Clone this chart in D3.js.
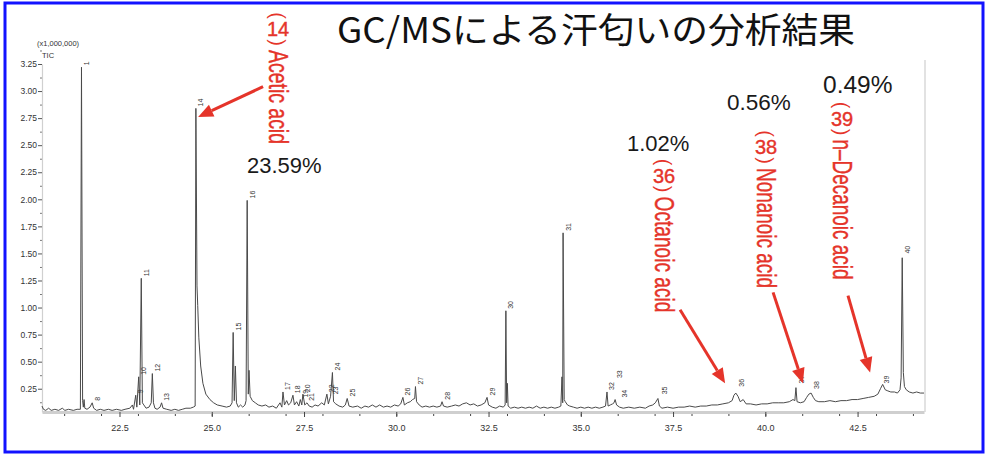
<!DOCTYPE html>
<html>
<head>
<meta charset="utf-8">
<script src="https://cdn.jsdelivr.net/npm/d3@7"></script>
<style>
  body { margin: 0; background: #fff; }
  svg { display: block; font-family: "Liberation Sans", Arial, sans-serif; }
</style>
</head>
<body>
<div id="chart-area"></div>
<script>
// TIC trace: [retention time (min), intensity (x1,000,000)]
var trace = [
    [20.40, 0.09], [20.44, 0.06], [20.50, 0.05], [20.58, 0.07], [20.65, 0.05], [20.75, 0.06],
    [20.85, 0.05], [20.95, 0.07], [21.02, 0.05], [21.12, 0.06], [21.25, 0.05], [21.35, 0.06],
    [21.44, 0.06], [21.47, 3.22], [21.50, 0.14], [21.52, 0.08], [21.54, 0.15], [21.56, 0.07],
    [21.62, 0.06], [21.70, 0.08], [21.76, 0.12], [21.80, 0.07], [21.88, 0.05], [21.98, 0.06],
    [22.08, 0.05], [22.20, 0.06], [22.30, 0.05], [22.42, 0.06], [22.55, 0.05], [22.65, 0.06],
    [22.78, 0.07], [22.85, 0.10], [22.88, 0.06], [22.94, 0.19], [22.97, 0.08], [23.02, 0.36],
    [23.05, 0.10], [23.09, 1.27], [23.12, 0.12], [23.16, 0.10], [23.22, 0.07], [23.30, 0.08],
    [23.36, 0.12], [23.39, 0.39], [23.42, 0.12], [23.46, 0.07], [23.52, 0.06], [23.60, 0.08],
    [23.64, 0.12], [23.68, 0.07], [23.78, 0.06], [23.90, 0.05], [24.00, 0.06], [24.10, 0.05],
    [24.20, 0.06], [24.30, 0.07], [24.42, 0.07], [24.50, 0.08], [24.55, 0.09], [24.57, 2.84],
    [24.60, 1.20], [24.62, 1.02], [24.65, 0.72], [24.70, 0.46], [24.76, 0.30], [24.84, 0.20],
    [24.95, 0.15], [25.05, 0.12], [25.15, 0.10], [25.28, 0.09], [25.40, 0.08], [25.50, 0.09],
    [25.55, 0.12], [25.58, 0.77], [25.61, 0.14], [25.64, 0.46], [25.67, 0.12], [25.72, 0.08],
    [25.78, 0.10], [25.84, 0.08], [25.90, 0.10], [25.93, 0.14], [25.96, 1.99], [25.99, 0.20],
    [26.01, 0.42], [26.04, 0.18], [26.10, 0.14], [26.18, 0.12], [26.26, 0.10], [26.36, 0.09],
    [26.46, 0.10], [26.55, 0.08], [26.65, 0.09], [26.75, 0.07], [26.85, 0.12], [26.90, 0.08],
    [26.93, 0.22], [26.97, 0.10], [27.03, 0.14], [27.08, 0.10], [27.14, 0.12], [27.20, 0.19],
    [27.24, 0.10], [27.30, 0.13], [27.36, 0.09], [27.40, 0.15], [27.44, 0.10], [27.47, 0.20],
    [27.52, 0.10], [27.58, 0.12], [27.64, 0.09], [27.72, 0.08], [27.80, 0.10], [27.88, 0.09],
    [27.98, 0.12], [28.05, 0.10], [28.12, 0.20], [28.16, 0.11], [28.22, 0.18], [28.27, 0.40],
    [28.30, 0.13], [28.36, 0.11], [28.45, 0.09], [28.55, 0.08], [28.62, 0.10], [28.67, 0.16],
    [28.72, 0.09], [28.82, 0.08], [28.95, 0.09], [29.05, 0.07], [29.15, 0.09], [29.25, 0.08],
    [29.35, 0.10], [29.45, 0.08], [29.55, 0.10], [29.65, 0.08], [29.75, 0.09], [29.85, 0.08],
    [29.95, 0.10], [30.05, 0.09], [30.12, 0.11], [30.18, 0.17], [30.22, 0.10], [30.30, 0.12],
    [30.38, 0.13], [30.44, 0.15], [30.50, 0.16], [30.52, 0.27], [30.55, 0.13], [30.62, 0.10],
    [30.70, 0.08], [30.80, 0.09], [30.90, 0.08], [31.00, 0.09], [31.10, 0.08], [31.20, 0.09],
    [31.24, 0.13], [31.28, 0.09], [31.38, 0.08], [31.50, 0.09], [31.60, 0.10], [31.70, 0.09],
    [31.80, 0.11], [31.90, 0.12], [32.00, 0.10], [32.10, 0.11], [32.20, 0.09], [32.30, 0.10],
    [32.40, 0.12], [32.46, 0.17], [32.50, 0.10], [32.60, 0.08], [32.70, 0.07], [32.80, 0.09],
    [32.90, 0.08], [32.95, 0.10], [32.97, 0.97], [32.99, 0.12], [33.01, 0.30], [33.03, 0.09],
    [33.10, 0.07], [33.20, 0.08], [33.30, 0.07], [33.40, 0.08], [33.50, 0.07], [33.60, 0.08],
    [33.70, 0.07], [33.80, 0.09], [33.90, 0.07], [34.00, 0.08], [34.10, 0.07], [34.20, 0.08],
    [34.30, 0.07], [34.40, 0.08], [34.46, 0.09], [34.49, 0.36], [34.51, 0.12], [34.52, 1.69],
    [34.55, 0.15], [34.58, 0.13], [34.64, 0.10], [34.70, 0.09], [34.80, 0.08], [34.90, 0.07],
    [35.00, 0.08], [35.10, 0.07], [35.20, 0.08], [35.30, 0.07], [35.40, 0.08], [35.50, 0.07],
    [35.60, 0.08], [35.67, 0.09], [35.71, 0.22], [35.74, 0.09], [35.80, 0.10], [35.86, 0.11],
    [35.90, 0.12], [35.93, 0.15], [35.97, 0.10], [36.05, 0.08], [36.15, 0.07], [36.30, 0.08],
    [36.45, 0.07], [36.60, 0.08], [36.75, 0.07], [36.85, 0.09], [36.95, 0.10], [37.02, 0.12],
    [37.09, 0.16], [37.13, 0.09], [37.20, 0.07], [37.35, 0.08], [37.50, 0.07], [37.65, 0.08],
    [37.80, 0.08], [37.95, 0.09], [38.10, 0.08], [38.25, 0.09], [38.40, 0.09], [38.55, 0.10],
    [38.70, 0.10], [38.85, 0.11], [39.00, 0.12], [39.10, 0.14], [39.15, 0.19], [39.20, 0.21],
    [39.26, 0.18], [39.32, 0.13], [39.40, 0.15], [39.48, 0.11], [39.60, 0.11], [39.75, 0.10],
    [39.90, 0.11], [40.05, 0.11], [40.20, 0.12], [40.35, 0.12], [40.50, 0.12], [40.65, 0.13],
    [40.75, 0.15], [40.80, 0.14], [40.83, 0.26], [40.86, 0.13], [40.95, 0.12], [41.05, 0.13],
    [41.12, 0.17], [41.18, 0.20], [41.24, 0.21], [41.30, 0.17], [41.36, 0.14], [41.45, 0.13],
    [41.60, 0.13], [41.75, 0.14], [41.90, 0.13], [42.05, 0.14], [42.20, 0.14], [42.35, 0.15],
    [42.50, 0.15], [42.65, 0.16], [42.80, 0.17], [42.95, 0.18], [43.05, 0.20], [43.12, 0.25],
    [43.18, 0.29], [43.25, 0.24], [43.32, 0.23], [43.40, 0.22], [43.50, 0.22], [43.58, 0.21],
    [43.65, 0.24], [43.68, 0.35], [43.71, 1.46], [43.74, 0.40], [43.77, 0.27], [43.82, 0.24],
    [43.90, 0.22], [44.00, 0.21], [44.10, 0.22], [44.20, 0.21], [44.30, 0.21]
];

// peak numbers and where their labels sit (time, intensity)
var peakNumbers = ["1", "8", "9", "10", "11", "12", "13", "14", "15", "16", "17", "18", "19", "20",
    "21", "22", "23", "24", "25", "26", "27", "28", "29", "30", "31", "32", "33", "34", "35",
    "36", "37", "38", "39", "40"];
var peakTimes = [21.47, 21.76, 22.94, 23.02, 23.09, 23.39, 23.64, 24.57, 25.58, 25.96, 26.93,
    27.20, 27.40, 27.47, 27.58, 28.12, 28.22, 28.27, 28.67, 30.18, 30.52, 31.24, 32.46, 32.97,
    34.52, 35.71, 35.90, 36.04, 37.12, 39.21, 40.85, 41.24, 43.14, 43.71];
var peakHeights = [3.22, 0.12, 0.19, 0.36, 1.27, 0.39, 0.12, 2.84, 0.77, 1.99, 0.22, 0.19, 0.15,
    0.20, 0.12, 0.20, 0.18, 0.40, 0.16, 0.17, 0.27, 0.13, 0.17, 0.97, 1.69, 0.22, 0.33, 0.15,
    0.18, 0.25, 0.28, 0.23, 0.28, 1.48];

// identified compounds
var compoundNumbers = ["14", "36", "38", "39"];
var compoundNames   = ["Acetic acid", "Octanoic acid", "Nonanoic acid", "n\u2013Decanoic acid"];
var areaPercents    = ["23.59%", "1.02%", "0.56%", "0.49%"];
// arrow tail / tip in chart units [time, intensity]
var arrowTails = [[26.39, 3.04], [37.69, 0.98], [40.21, 1.14], [42.24, 1.11]];
var arrowTips  = [[24.63, 2.76], [38.91, 0.30], [41.02, 0.30], [42.84, 0.40]];

var xTickLabels = [22.5, 25.0, 27.5, 30.0, 32.5, 35.0, 37.5, 40.0, 42.5];
var yTickLabels = [0.25, 0.50, 0.75, 1.00, 1.25, 1.50, 1.75, 2.00, 2.25, 2.50, 2.75, 3.00, 3.25];

var titleText = "GC/MSによる汗匂いの分析結果";


var W = 987, H = 455;
var red = "#e5342a";

var svg = d3.select("#chart-area")
    .append("svg")
        .attr("width", W)
        .attr("height", H);

svg.append("rect")
    .attr("width", W).attr("height", H)
    .attr("fill", "#fff");

// blue frame
svg.append("rect")
    .attr("x", 5).attr("y", 3)
    .attr("width", 978).attr("height", 449)
    .attr("fill", "none")
    .attr("stroke", "#1212ff")
    .attr("stroke-width", 3);

var x = d3.scaleLinear().domain([20.4, 44.3]).range([42, 924]);
var y = d3.scaleLinear().domain([0.035, 3.25]).range([412, 64]);

// right edge of plot box
svg.append("line")
    .attr("x1", 925).attr("x2", 925)
    .attr("y1", 60).attr("y2", 412)
    .attr("stroke", "#d9d9d9")
    .attr("stroke-width", 1.5);

// x axis
var xMinor = d3.range(21, 44.5, 1);
svg.append("g")
    .attr("class", "x-minor")
    .attr("transform", "translate(0, 412)")
    .call(d3.axisBottom(x).tickValues(xMinor).tickSize(4).tickSizeOuter(0).tickFormat(""))
    .call(g => g.select(".domain").remove())
    .selectAll("line").attr("stroke", "#444");

var xAxis = svg.append("g")
    .attr("class", "x-axis")
    .attr("transform", "translate(0, 412)")
    .call(d3.axisBottom(x)
        .tickValues(xTickLabels)
        .tickSize(5)
        .tickSizeOuter(0)
        .tickPadding(8)
        .tickFormat(d3.format(".1f")));
xAxis.select(".domain").attr("stroke", "#cfcfcf").attr("stroke-width", 3);
xAxis.selectAll("line").attr("stroke", "#444");
xAxis.selectAll("text")
    .attr("font-size", "9px")
    .attr("font-family", "Liberation Sans, Arial, sans-serif")
    .attr("fill", "#333");

// y axis
var yMinor = yTickLabels.map(function(d) { return d - 0.125; }).concat([3.375]).filter(function(d) { return d > 0.05; });
svg.append("g")
    .attr("class", "y-minor")
    .attr("transform", "translate(42, 0)")
    .call(d3.axisLeft(y).tickValues(yMinor).tickSize(2).tickSizeOuter(0).tickFormat(""))
    .call(g => g.select(".domain").remove())
    .selectAll("line").attr("stroke", "#777");

var yAxis = svg.append("g")
    .attr("class", "y-axis")
    .attr("transform", "translate(42, 0)")
    .call(d3.axisLeft(y)
        .tickValues(yTickLabels)
        .tickSize(4)
        .tickSizeOuter(0)
        .tickPadding(1)
        .tickFormat(d3.format(".2f")));
yAxis.select(".domain").attr("stroke", "#d0d0d0").attr("stroke-width", 1.2);
yAxis.selectAll("line").attr("stroke", "#555");
yAxis.selectAll("text")
    .attr("font-size", "8.5px")
    .attr("font-family", "Liberation Sans, Arial, sans-serif")
    .attr("fill", "#333");

svg.append("text")
    .attr("x", 37).attr("y", 46)
    .attr("font-size", "7.5px")
    .attr("fill", "#333")
    .text("(x1,000,000)");

svg.append("text")
    .attr("x", 42).attr("y", 58)
    .attr("font-size", "7.5px")
    .attr("fill", "#333")
    .text("TIC");

// TIC trace
var line = d3.line()
    .x(function(d) { return x(d[0]); })
    .y(function(d) { return y(d[1]); });

svg.append("path")
    .datum(trace)
    .attr("d", line)
    .attr("fill", "none")
    .attr("stroke", "#4a4a4a")
    .attr("stroke-width", 1);

// peak numbers
svg.append("g")
    .attr("class", "peak-labels")
    .selectAll("text")
    .data(peakNumbers)
    .enter()
    .append("text")
        .attr("transform", function(d, i) {
            return "translate(" + (x(peakTimes[i]) + 5) + "," + (y(peakHeights[i]) - 2) + ") rotate(-90)";
        })
        .attr("dominant-baseline", "central")
        .attr("font-size", "7px")
        .attr("fill", "#333")
        .text(function(d) { return d; });

// title
svg.append("text")
    .attr("x", 337).attr("y", 43)
    .attr("font-family", "Noto Sans CJK JP, sans-serif")
    .attr("font-size", "35px")
    .attr("textLength", 518)
    .attr("lengthAdjust", "spacingAndGlyphs")
    .attr("fill", "#111")
    .text(titleText);

// red vertical compound labels: centre x, number centre y, name length
var labelLayout = [
    { cx: 278, cy: 29,    len: 94 },
    { cx: 664, cy: 175.5, len: 116 },
    { cx: 766, cy: 147,   len: 120 },
    { cx: 842, cy: 118.5, len: 140 }
];
var pctLayout = [
    { x: 247, y: 173, size: 22 },
    { x: 627, y: 151, size: 22 },
    { x: 727, y: 110, size: 22.5 },
    { x: 823, y: 93,  size: 24.5 }
];

compoundNumbers.forEach(function(num, i) {
    var L = labelLayout[i];
    var g = svg.append("g").attr("fill", red);

    g.append("text")
        .attr("transform", "translate(" + L.cx + "," + (L.cy - 13.5) + ") rotate(90)")
        .attr("text-anchor", "middle")
        .attr("dominant-baseline", "central")
        .attr("font-size", "20px")
        .text("(");

    g.append("text")
        .attr("x", L.cx).attr("y", L.cy)
        .attr("text-anchor", "middle")
        .attr("dominant-baseline", "central")
        .attr("font-size", "20px")
        .attr("stroke", red)
        .attr("stroke-width", 0.4)
        .text(num);

    g.append("text")
        .attr("transform", "translate(" + L.cx + "," + (L.cy + 13.5) + ") rotate(90)")
        .attr("text-anchor", "middle")
        .attr("dominant-baseline", "central")
        .attr("font-size", "20px")
        .text(")");

    g.append("text")
        .attr("transform", "translate(" + L.cx + "," + (L.cy + 21) + ") rotate(90)")
        .attr("dominant-baseline", "central")
        .attr("font-size", "27px")
        .attr("textLength", L.len)
        .attr("lengthAdjust", "spacingAndGlyphs")
        .attr("stroke", red)
        .attr("stroke-width", 0.4)
        .text(compoundNames[i]);

    var P = pctLayout[i];
    svg.append("text")
        .attr("x", P.x).attr("y", P.y)
        .attr("font-size", P.size + "px")
        .attr("fill", "#1a1a1a")
        .text(areaPercents[i]);

    // arrow
    var x1 = x(arrowTails[i][0]), y1 = y(arrowTails[i][1]);
    var x2 = x(arrowTips[i][0]),  y2 = y(arrowTips[i][1]);
    var a = Math.atan2(y2 - y1, x2 - x1);
    var head = 15, half = 6.5;
    var bx = x2 - head * Math.cos(a), by = y2 - head * Math.sin(a);
    g.append("line")
        .attr("x1", x1).attr("y1", y1)
        .attr("x2", bx).attr("y2", by)
        .attr("stroke", red)
        .attr("stroke-width", 3);
    g.append("path")
        .attr("d", "M" + x2 + "," + y2 +
            "L" + (bx + half * Math.sin(a)) + "," + (by - half * Math.cos(a)) +
            "L" + (bx - half * Math.sin(a)) + "," + (by + half * Math.cos(a)) + "Z")
        .attr("fill", red);
});
</script>
</body>
</html>
